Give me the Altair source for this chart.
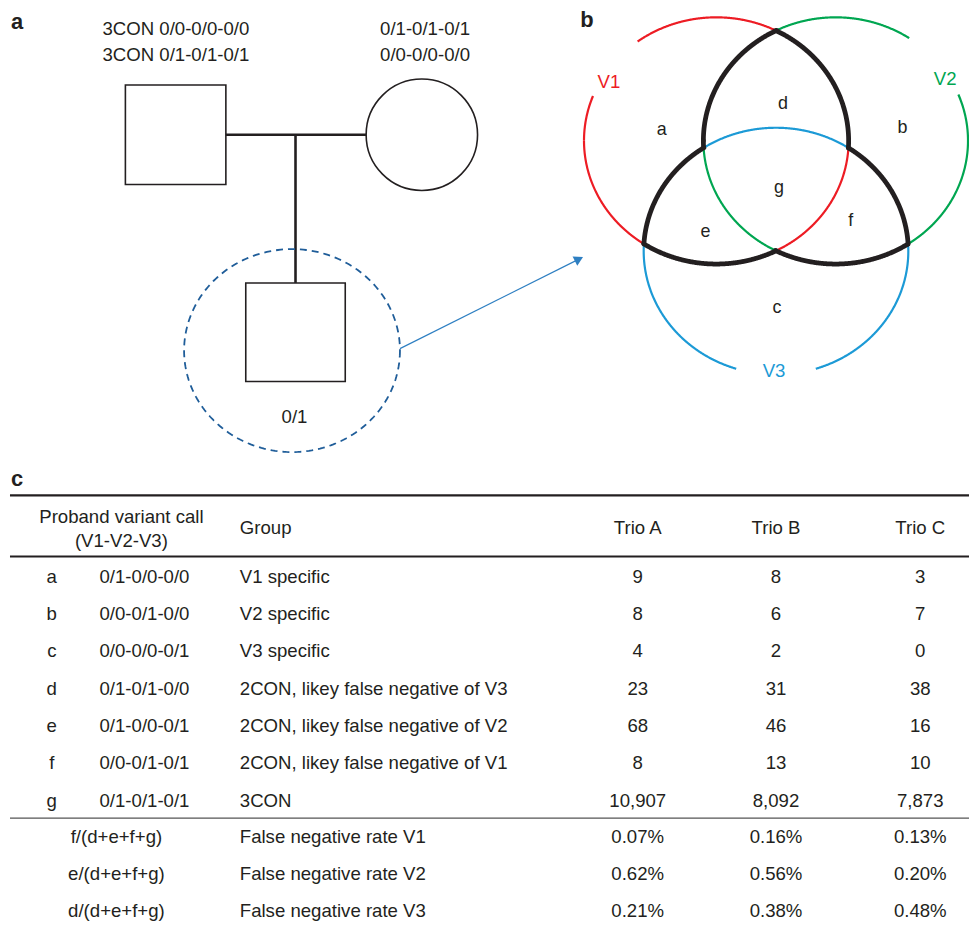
import numpy as np
import pandas as pd
import altair as alt

# ---------------- data ----------------
panel_labels = ["a", "b", "c"]
father_calls = ["3CON 0/0-0/0-0/0", "3CON 0/1-0/1-0/1"]
mother_calls = ["0/1-0/1-0/1", "0/0-0/0-0/0"]
proband_call = ["0/1"]
venn_sets = ["V1", "V2", "V3"]
venn_colors = ["#ed1c24", "#00a651", "#1c9ad6"]
venn_regions = ["a", "d", "b", "g", "e", "f", "c"]

row_ids = ["a", "b", "c", "d", "e", "f", "g"]
row_calls = ["0/1-0/0-0/0", "0/0-0/1-0/0", "0/0-0/0-0/1", "0/1-0/1-0/0",
             "0/1-0/0-0/1", "0/0-0/1-0/1", "0/1-0/1-0/1"]
row_groups = ["V1 specific", "V2 specific", "V3 specific",
              "2CON, likey false negative of V3", "2CON, likey false negative of V2",
              "2CON, likey false negative of V1", "3CON"]
trio_names = ["Trio A", "Trio B", "Trio C"]
trio_a = [9, 8, 4, 23, 68, 8, 10907]
trio_b = [8, 6, 2, 31, 46, 13, 8092]
trio_c = [3, 7, 0, 38, 16, 10, 7873]
rate_formulas = ["f/(d+e+f+g)", "e/(d+e+f+g)", "d/(d+e+f+g)"]
rate_groups = ["False negative rate V1", "False negative rate V2", "False negative rate V3"]
rate_a = [0.07, 0.62, 0.21]
rate_b = [0.16, 0.56, 0.38]
rate_c = [0.13, 0.20, 0.48]

# ---------------- layout ----------------
INK = "#231f20"
FONT = "Liberation Sans"
FS = 18.7
X_LO, X_HI, Y_LO, Y_HI = 8, 974, 8, 921
XS = alt.Scale(domain=[X_LO, X_HI], nice=False, zero=False)
YS = alt.Scale(domain=[Y_LO, Y_HI], nice=False, zero=False, reverse=True)


def X(f="x"):
    return alt.X(f"{f}:Q", scale=XS, axis=None)


def Y(f="y"):
    return alt.Y(f"{f}:Q", scale=YS, axis=None)


def text_layer(df, align="center", weight="normal", size=FS):
    return alt.Chart(df).mark_text(
        align=align, baseline="middle", font=FONT, fontWeight=weight, fontSize=size
    ).encode(x=X(), y=Y(), text="text:N", color=alt.Color("color:N", scale=None))


layers = []

# panel labels
label_pos = [(17, 20), (590, 18), (17, 479)]
layers.append(text_layer(pd.DataFrame({
    "x": [p[0] for p in label_pos], "y": [p[1] for p in label_pos],
    "text": panel_labels, "color": INK}), weight="bold", size=22))

# ---------- panel a: pedigree ----------
father_box = (126, 83, 227, 183)
child_box = (247, 282, 347, 381)
mother_c = (424, 133, 56)
couple_y = 133
desc_x = 297
ring = (293.5, 350, 108.5, 102)
arrow_from = (402, 348)
arrow_to = (586, 256)

boxes = pd.DataFrame([dict(x=b[0], y=b[1], x2=b[2], y2=b[3]) for b in (father_box, child_box)])
layers.append(alt.Chart(boxes).mark_rect(fill="white", stroke=INK, strokeWidth=1.6).encode(
    x=X(), y=Y(), x2="x2:Q", y2="y2:Q"))

layers.append(alt.Chart(pd.DataFrame({"x": [mother_c[0]], "y": [mother_c[1]]})).mark_point(
    shape="circle", size=(2 * mother_c[2]) ** 2, filled=False, stroke=INK, strokeWidth=1.6,
    opacity=1).encode(x=X(), y=Y()))

ped_lines = pd.DataFrame([
    dict(x=father_box[2], y=couple_y, x2=mother_c[0] - mother_c[2], y2=couple_y),
    dict(x=desc_x, y=couple_y, x2=desc_x, y2=child_box[1]),
])
layers.append(alt.Chart(ped_lines).mark_rule(color=INK, strokeWidth=2.6).encode(
    x=X(), y=Y(), x2="x2:Q", y2="y2:Q"))

tt = np.linspace(0, 2 * np.pi, 241)
ring_df = pd.DataFrame({"i": np.arange(len(tt)),
                        "x": ring[0] + ring[2] * np.cos(tt),
                        "y": ring[1] + ring[3] * np.sin(tt)})
layers.append(alt.Chart(ring_df).mark_line(color="#1f5d99", strokeWidth=1.8, strokeDash=[7, 5]).encode(
    x=X(), y=Y(), order="i:Q"))

# arrow
dx, dy = arrow_to[0] - arrow_from[0], arrow_to[1] - arrow_from[1]
L = np.hypot(dx, dy)
ux, uy = dx / L, dy / L
head_size = 110
h = np.sqrt(3) / 2 * np.sqrt(head_size) / 2
hc = (arrow_to[0] - h * ux, arrow_to[1] - h * uy)
ang = float(np.degrees(np.arctan2(ux, -uy)))
layers.append(alt.Chart(pd.DataFrame([dict(x=arrow_from[0], y=arrow_from[1], x2=hc[0], y2=hc[1])])).mark_rule(
    color="#2e7fc2", strokeWidth=1.2).encode(x=X(), y=Y(), x2="x2:Q", y2="y2:Q"))
layers.append(alt.Chart(pd.DataFrame({"x": [hc[0]], "y": [hc[1]]})).mark_point(
    shape="triangle-up", size=head_size, angle=ang, filled=True, color="#2e7fc2", opacity=1).encode(
    x=X(), y=Y()))

# pedigree texts
ped_text = pd.DataFrame({
    "x": [103, 103, 382, 382], "y": [27, 53, 27, 53],
    "text": father_calls + mother_calls, "color": INK})
layers.append(text_layer(ped_text, align="left"))
layers.append(text_layer(pd.DataFrame({"x": [296], "y": [417], "text": proband_call, "color": INK})))

# ---------- panel b: Venn ----------
ell_cx = [720, 840, 780]
ell_cy = [139, 139, 250]
ell_a, ell_b = 133, 124
gaps = [(-159, -126.5), (-56.5, -22), (72.4, 107.5)]

t = np.radians(np.linspace(-180, 180, 1441))
rows = []
seg = 0
for k in range(3):
    px = ell_cx[k] + ell_a * np.cos(t)
    py = ell_cy[k] + ell_b * np.sin(t)
    inside = np.zeros(len(t), dtype=int)
    for j in range(3):
        if j != k:
            inside += ((((px - ell_cx[j]) / ell_a) ** 2 + ((py - ell_cy[j]) / ell_b) ** 2) < 1).astype(int)
    deg = np.degrees(t)
    g0, g1 = gaps[k]
    status = np.where(inside == 1, "black",
                      np.where((inside == 0) & (deg > g0) & (deg < g1), "gap", "color"))
    n = len(t)
    start = 0
    for i in range(1, n + 1):
        if i == n or status[i] != status[start]:
            if status[start] != "gap":
                end = min(i, n - 1)
                for q in range(start, end + 1):
                    rows.append(dict(seg=seg, i=q, x=px[q], y=py[q], kind=status[start],
                                     color=INK if status[start] == "black" else venn_colors[k]))
                seg += 1
            start = i
arcs = pd.DataFrame(rows)
layers.append(alt.Chart(arcs[arcs.kind == "color"]).mark_line(strokeWidth=2.2, strokeCap="butt").encode(
    x=X(), y=Y(), detail="seg:N", order="i:Q", color=alt.Color("color:N", scale=None)))
layers.append(alt.Chart(arcs[arcs.kind == "black"]).mark_line(strokeWidth=4.8, strokeCap="round", color=INK).encode(
    x=X(), y=Y(), detail="seg:N", order="i:Q"))

region_pos = [(665, 128), (787, 102), (907, 126), (783, 187), (709, 231), (855, 220), (781, 307)]
layers.append(text_layer(pd.DataFrame({
    "x": [p[0] for p in region_pos], "y": [p[1] for p in region_pos],
    "text": venn_regions, "color": INK}), size=18))
set_pos = [(612, 80), (950, 77), (778, 371)]
layers.append(text_layer(pd.DataFrame({
    "x": [p[0] for p in set_pos], "y": [p[1] for p in set_pos],
    "text": venn_sets, "color": venn_colors}), size=FS))

# ---------- panel c: table ----------
col_id_x, col_call_x, col_group_x = 52, 100, 241
trio_x = [641, 780, 925]
header_y = 528
row_y0, row_step = 577.5, 37.5
rate_y0 = 838.5
rate_formula_x = 117

rules = [
    dict(x=10, x2=X_HI, y=495.5, w=2.2, c=INK),
    dict(x=10, x2=X_HI, y=557, w=2.2, c=INK),
    dict(x=10, x2=X_HI, y=820, w=1.4, c="#555555"),
]
for r in rules:
    layers.append(alt.Chart(pd.DataFrame([dict(x=r["x"], x2=r["x2"], y=r["y"])])).mark_rule(
        color=r["c"], strokeWidth=r["w"]).encode(x=X(), x2="x2:Q", y=Y()))

center_txt = []
left_txt = []
center_txt += [dict(x=122, y=517, text="Proband variant call"), dict(x=122, y=541, text="(V1-V2-V3)")]
left_txt += [dict(x=col_group_x, y=header_y, text="Group")]
for k, name in enumerate(trio_names):
    center_txt.append(dict(x=trio_x[k], y=header_y, text=name))
for i, rid in enumerate(row_ids):
    y = row_y0 + row_step * i
    center_txt.append(dict(x=col_id_x, y=y, text=rid))
    left_txt.append(dict(x=col_call_x, y=y, text=row_calls[i]))
    left_txt.append(dict(x=col_group_x, y=y, text=row_groups[i]))
    for k, vals in enumerate((trio_a, trio_b, trio_c)):
        center_txt.append(dict(x=trio_x[k], y=y, text=f"{vals[i]:,}"))
for i, f in enumerate(rate_formulas):
    y = rate_y0 + row_step * i
    center_txt.append(dict(x=rate_formula_x, y=y, text=f))
    left_txt.append(dict(x=col_group_x, y=y, text=rate_groups[i]))
    for k, vals in enumerate((rate_a, rate_b, rate_c)):
        center_txt.append(dict(x=trio_x[k], y=y, text=f"{vals[i]:.2f}%"))

ct = pd.DataFrame(center_txt); ct["color"] = INK
lt = pd.DataFrame(left_txt); lt["color"] = INK
layers.append(text_layer(ct))
layers.append(text_layer(lt, align="left"))

chart = alt.layer(*layers).properties(
    width=X_HI - X_LO, height=Y_HI - Y_LO,
    autosize=alt.AutoSizeParams(type="none"), padding=0,
).configure(background="white").configure_view(strokeWidth=0, stroke=None if False else "transparent")

chart.save("out.html", embed_options={"renderer": "svg", "actions": False})
